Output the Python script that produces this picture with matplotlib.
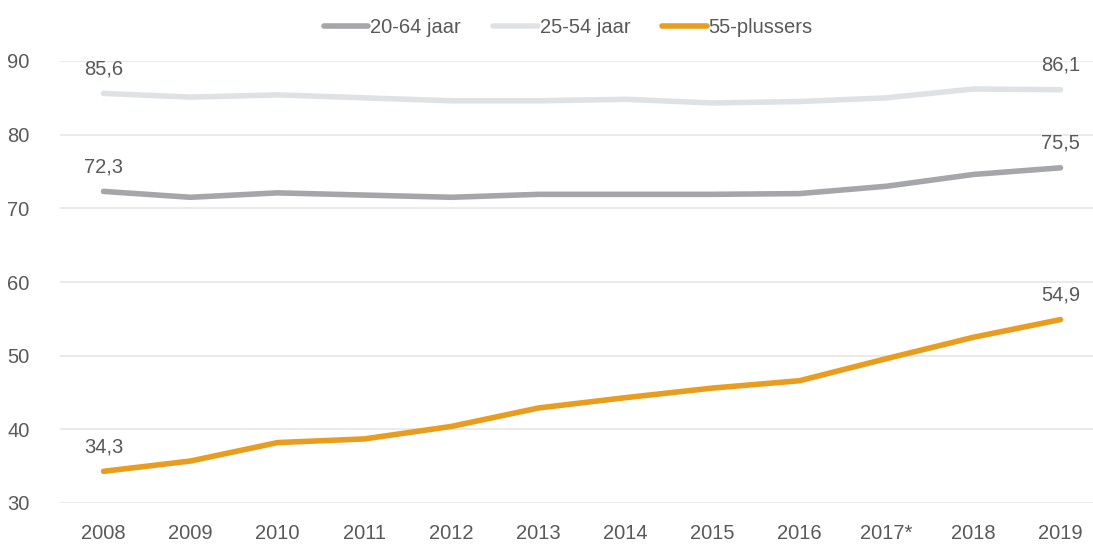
import matplotlib.pyplot as plt

plt.rcParams['font.family'] = ['Liberation Sans Narrow', 'Liberation Sans', 'DejaVu Sans']

years = ['2008', '2009', '2010', '2011', '2012', '2013', '2014', '2015',
         '2016', '2017*', '2018', '2019']
age_20_64 = [72.3, 71.5, 72.1, 71.8, 71.5, 71.9, 71.9, 71.9, 72.0, 73.0, 74.6, 75.5]
age_25_54 = [85.6, 85.1, 85.4, 85.0, 84.6, 84.6, 84.8, 84.3, 84.5, 85.0, 86.2, 86.1]
age_55_plus = [34.3, 35.7, 38.2, 38.7, 40.4, 42.9, 44.3, 45.6, 46.6, 49.6, 52.5, 54.9]

series = [
    ('20-64 jaar', age_20_64, '#A5A6A9'),
    ('25-54 jaar', age_25_54, '#DFE2E5'),
    ('55-plussers', age_55_plus, '#E89D1F'),
]
text_color = '#595959'

fig = plt.figure(figsize=(10.93, 5.45), dpi=100)
ax = fig.add_axes([60 / 1093, 42 / 545, 1 - 60 / 1093, 442 / 545])

x = list(range(len(years)))
for name, vals, col in series:
    ax.plot(x, vals, color=col, lw=4, solid_capstyle='round', label=name)

# labels only on first and last point
for name, vals, col in series:
    for i in (0, len(vals) - 1):
        ax.annotate(f'{vals[i]:.1f}'.replace('.', ','), (x[i], vals[i]),
                    xytext=(0, 11), textcoords='offset points',
                    ha='center', va='bottom', fontsize=14.5, color=text_color)

ax.set_ylim(30, 90)
ax.set_yticks(range(30, 91, 10))
ax.set_xlim(-0.5, -0.5 + 1033 / 87)
ax.set_xticks(x)
ax.set_xticklabels(years)
ax.grid(axis='y', color='#E8E8E8', lw=1.3)
ax.set_axisbelow(True)
for s in ax.spines.values():
    s.set_visible(False)
ax.tick_params(axis='both', length=0, labelsize=14.5, labelcolor=text_color)
ax.tick_params(axis='y', pad=22)
ax.tick_params(axis='x', pad=15)

fig.legend(loc='upper center', bbox_to_anchor=(0.52, 1.0), ncol=3, frameon=False,
           fontsize=14.5, labelcolor=text_color, handlelength=2.2, handletextpad=0.1,
           columnspacing=1.6)

fig.savefig('out.png', dpi=100)
